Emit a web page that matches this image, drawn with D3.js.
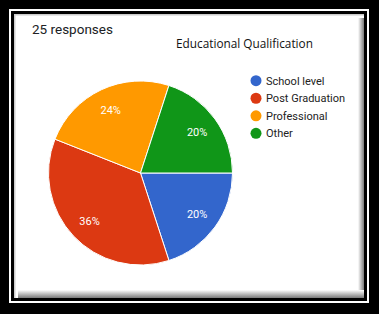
<!DOCTYPE html>
<html>
<head>
<meta charset="utf-8">
<script src="https://cdn.jsdelivr.net/npm/d3@7"></script>
<style>
  html, body { margin: 0; padding: 0; background: #000; }
  svg { display: block; }
</style>
</head>
<body>
<div id="chart"></div>
<script>
// Data
var categories = ['School level', 'Post Graduation', 'Professional', 'Other'];
var shares = [20, 36, 24, 20];
var colors = ['#3366cc', '#dc3912', '#ff9900', '#109618'];
var responseText = '25 responses';
var chartTitle = 'Educational Qualification';

var W = 379, H = 314;

var svg = d3.select('#chart').append('svg')
    .attr('width', W)
    .attr('height', H);

var defs = svg.append('defs');

// Frame: black outside, thin white rule, black rule, white panel
svg.append('rect').attr('width', W).attr('height', H).attr('fill', '#000');
svg.append('rect').attr('x', 9).attr('y', 9).attr('width', 360).attr('height', 294).attr('fill', '#fff');
svg.append('rect').attr('x', 11).attr('y', 11).attr('width', 356).attr('height', 290).attr('fill', '#000');
svg.append('rect').attr('x', 14).attr('y', 14).attr('width', 350).attr('height', 284).attr('fill', '#fff');

// soft shadow inside the panel (right and bottom)
var gR = defs.append('linearGradient').attr('id', 'shR').attr('x1', 0).attr('x2', 1).attr('y1', 0).attr('y2', 0);
gR.append('stop').attr('offset', 0).attr('stop-color', '#fff');
gR.append('stop').attr('offset', 1).attr('stop-color', '#7a7a7a');
var gB = defs.append('linearGradient').attr('id', 'shB').attr('x1', 0).attr('x2', 0).attr('y1', 0).attr('y2', 1);
gB.append('stop').attr('offset', 0).attr('stop-color', '#fff');
gB.append('stop').attr('offset', 1).attr('stop-color', '#7a7a7a');
svg.append('rect').attr('x', 358).attr('y', 18).attr('width', 6).attr('height', 280).attr('fill', 'url(#shR)');
svg.append('rect').attr('x', 18).attr('y', 290).attr('width', 346).attr('height', 8).attr('fill', 'url(#shB)');
// light edge on top/left
svg.append('rect').attr('x', 14).attr('y', 14).attr('width', 350).attr('height', 1.5).attr('fill', '#ccc');
svg.append('rect').attr('x', 14).attr('y', 14).attr('width', 1.5).attr('height', 284).attr('fill', '#ccc');

// Header texts
svg.append('text')
    .attr('x', 32).attr('y', 33.5)
    .attr('font-family', 'Roboto, sans-serif')
    .attr('font-size', 13.5)
    .attr('fill', '#202124')
    .text(responseText);

var title = svg.append('text')
    .attr('x', 176).attr('y', 47.5)
    .attr('font-family', '"Open Sans", sans-serif')
    .attr('font-size', 12)
    .attr('fill', '#111')
    .text(chartTitle);
// fit title to its width in the picture
var tw = title.node().getComputedTextLength();
title.attr('font-size', 12 * 137 / tw);

// Pie
var cx = 140.5, cy = 173, r = 92;
var pie = d3.pie()
    .sort(null)
    .value(function (d) { return d; })
    .startAngle(Math.PI / 2)
    .endAngle(Math.PI / 2 + 2 * Math.PI);
var arc = d3.arc().innerRadius(0).outerRadius(r);
var labelArc = d3.arc().innerRadius(70).outerRadius(70);
var arcs = pie(shares);

var gPie = svg.append('g').attr('transform', 'translate(' + cx + ',' + cy + ')');
gPie.selectAll('path.slice')
    .data(arcs)
    .enter().append('path')
    .attr('class', 'slice')
    .attr('d', arc)
    .attr('fill', function (d, i) { return colors[i]; })
    .attr('stroke', '#fff')
    .attr('stroke-width', 1);

gPie.selectAll('text.pct')
    .data(arcs)
    .enter().append('text')
    .attr('class', 'pct')
    .attr('transform', function (d) { return 'translate(' + labelArc.centroid(d) + ')'; })
    .attr('dy', '0.36em')
    .attr('text-anchor', 'middle')
    .attr('font-family', 'Roboto, sans-serif')
    .attr('font-size', 11)
    .attr('fill', '#fff')
    .text(function (d) { return d.data + '%'; });

// Legend
var legend = svg.append('g').attr('transform', 'translate(256,80.7)');
var item = legend.selectAll('g.item')
    .data(categories)
    .enter().append('g')
    .attr('class', 'item')
    .attr('transform', function (d, i) { return 'translate(0,' + (i * 17.55) + ')'; });
item.append('circle')
    .attr('r', 5.5)
    .attr('fill', function (d, i) { return colors[i]; });
item.append('text')
    .attr('x', 10)
    .attr('dy', '0.36em')
    .attr('font-family', 'Roboto, sans-serif')
    .attr('font-size', 11)
    .attr('fill', '#222')
    .text(function (d) { return d; });
</script>
</body>
</html>
